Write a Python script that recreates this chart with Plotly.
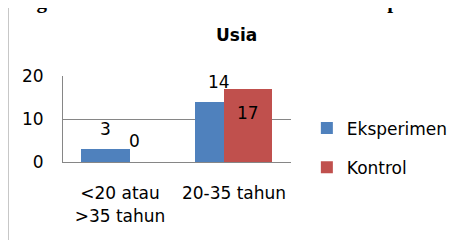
import plotly.graph_objects as go

categories = ["&lt;20 atau<br>&gt;35 tahun", "20-35 tahun"]
eksperimen = [3, 14]
kontrol = [0, 17]
series_names = ["Eksperimen", "Kontrol"]
y_ticks = [0, 10, 20]

# style (page body has an 8px margin, so the figure is offset by 8px)
OFF = 8
W, H = 465 - OFF, 240 - OFF
PL, PR, PT, PB = 63 - OFF, 293 - OFF, 76 - OFF, 162 - OFF  # plot area in figure px
ML, MR, MT, MB = PL, W - PR, PT, H - PB
FONT = "DejaVu Sans"
FS = 17
BLUE, RED = "#4F81BD", "#C0504D"
BAR_W = 0.425
OFFS = [-0.34, -0.09]
LABEL_SHIFT = {0: [20, 20], 1: [21, -24]}
pw, ph = W - ML - MR, H - MT - MB
px_per_unit = pw / 2.0


def px_x(p):
    return (p - OFF - ML) / pw


def px_y(p):
    return (PB - (p - OFF)) / ph


fig = go.Figure()
for i, (name, vals, col) in enumerate(zip(series_names, [eksperimen, kontrol], [BLUE, RED])):
    fig.add_trace(go.Bar(
        x=[0, 1], y=vals, name=name, marker=dict(color=col, line=dict(width=0)),
        width=BAR_W, offset=OFFS[i], legendgroup=name,
    ))
    for j, v in enumerate(vals):
        fig.add_annotation(
            x=j, y=v, xref="x", yref="y", text=str(v), showarrow=False,
            xshift=(OFFS[i] + BAR_W / 2) * px_per_unit, yshift=LABEL_SHIFT[i][j],
            font=dict(family=FONT, size=FS, color="#000"),
        )

fig.add_annotation(
    x=px_x(238), y=px_y(35), xref="paper", yref="paper", text="<b>Usia</b>",
    showarrow=False, font=dict(family=FONT, size=FS, color="#000"),
    xanchor="center", yanchor="middle",
)

# cut-off heading at top
fig.add_annotation(
    x=px_x(231), y=px_y(15), xref="paper", yref="paper",
    text="<b>Diagram 2.3 Distribusi Frekuensi Usia Responden</b>", showarrow=False,
    font=dict(family="Liberation Serif", size=21, color="#000"),
    xanchor="center", yanchor="bottom",
)

# chart frame
fig.add_shape(type="rect", xref="paper", yref="paper",
              x0=px_x(7), x1=px_x(500), y0=px_y(280), y1=px_y(6),
              line=dict(color="#8c8c8c", width=2), fillcolor="rgba(0,0,0,0)", layer="below")

fig.update_layout(
    template="none",
    width=W, height=H, margin=dict(l=ML, r=MR, t=MT, b=MB, pad=0),
    paper_bgcolor="white", plot_bgcolor="white",
    barmode="overlay", bargap=0,
    font=dict(family=FONT, size=FS, color="#000"),
    showlegend=True,
    legend=dict(x=px_x(309), xanchor="left", y=px_y(148), yanchor="middle",
                font=dict(family=FONT, size=FS, color="#000"), tracegroupgap=14,
                bgcolor="rgba(0,0,0,0)", borderwidth=0),
    xaxis=dict(range=[-0.5, 1.5], tickmode="array", tickvals=[0, 1], ticktext=categories,
               showline=True, linecolor="#868686", linewidth=1, showgrid=False,
               ticks="outside", ticklen=16, tickcolor="rgba(0,0,0,0)", zeroline=False,
               fixedrange=True, automargin=False),
    yaxis=dict(range=[0, 20], tickmode="array", tickvals=y_ticks,
               showline=True, linecolor="#868686", linewidth=1, showgrid=True,
               gridcolor="#868686", gridwidth=1, zeroline=False,
               ticks="outside", ticklen=15, tickcolor="rgba(0,0,0,0)", fixedrange=True,
               automargin=False),
)

fig.write_html("out.html", config={"displayModeBar": False})
